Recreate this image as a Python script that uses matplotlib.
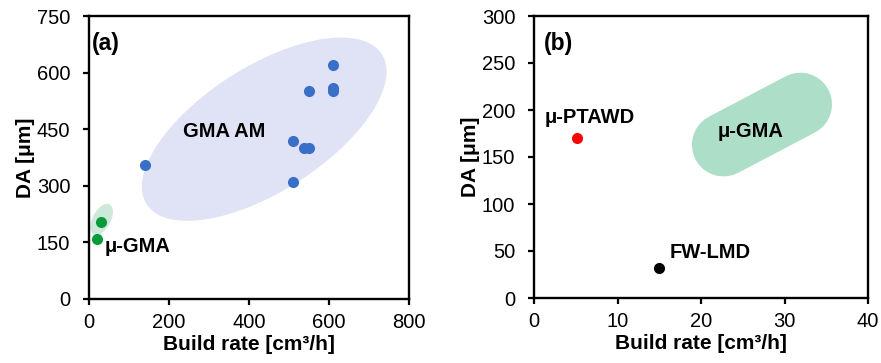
import numpy as np
import matplotlib
matplotlib.use("Agg")
import matplotlib.pyplot as plt
from matplotlib.patches import Polygon

plt.rcParams['font.family'] = ['Liberation Sans', 'DejaVu Sans']

# ---- data, panel (a) ----
gma_am_rate = [140, 611, 551, 611, 611, 509, 537, 551, 509]
gma_am_da = [355, 620, 550, 560, 550, 420, 400, 400, 310]
mu_gma_rate = [30, 19]
mu_gma_da = [205, 160]

# ---- data, panel (b) ----
ptawd_rate = [5.2]
ptawd_da = [170]
fwlmd_rate = [15]
fwlmd_da = [32]

xticks_a = [0, 200, 400, 600, 800]
yticks_a = [0, 150, 300, 450, 600, 750]
xticks_b = [0, 10, 20, 30, 40]
yticks_b = [0, 50, 100, 150, 200, 250, 300]

W, H, DPI = 881, 363, 100
fig = plt.figure(figsize=(W / DPI, H / DPI), dpi=DPI)

ax1 = fig.add_axes([89 / W, 1 - 299 / H, 320 / W, 283 / H])
ax2 = fig.add_axes([534 / W, 1 - 298 / H, 334 / W, 282 / H])


def pix_ellipse(ax, cx, cy, a_px, b_px, ang_deg, **kw):
    """Ellipse specified with centre in data units and axes in pixels."""
    x0, x1 = ax.get_xlim()
    y0, y1 = ax.get_ylim()
    bb = ax.get_position()
    sx = bb.width * W / (x1 - x0)
    sy = bb.height * H / (y1 - y0)
    t = np.linspace(0, 2 * np.pi, 200)
    th = np.deg2rad(ang_deg)
    dx = a_px * np.cos(t) * np.cos(th) - b_px * np.sin(t) * np.sin(th)
    dy = a_px * np.cos(t) * np.sin(th) + b_px * np.sin(t) * np.cos(th)
    pts = np.column_stack([cx + dx / sx, cy + dy / sy])
    ax.add_patch(Polygon(pts, closed=True, lw=0, **kw))


def style(ax, xt, yt):
    ax.set_xlim(xt[0], xt[-1])
    ax.set_ylim(yt[0], yt[-1])
    ax.set_xticks(xt)
    ax.set_yticks(yt)
    for s in ax.spines.values():
        s.set_linewidth(1.7)
    ax.tick_params(direction='out', length=4, width=1.6, labelsize=14.5,
                   top=False, right=False)
    ax.tick_params(axis='y', pad=9.5)
    ax.tick_params(axis='x', pad=6)
    ax.set_xlabel('Build rate [cm³/h]', fontsize=15, fontweight='bold', labelpad=2)
    ax.set_ylabel('DA [μm]', fontsize=15, fontweight='bold', labelpad=1)


style(ax1, xticks_a, yticks_a)
style(ax2, xticks_b, yticks_b)

# panel (a)
pix_ellipse(ax1, 438, 450, 139.5, 62.5, 32.5, color='#dfe3f5', zorder=1)
pix_ellipse(ax1, 31.7, 211, 17, 9, 62, color='#cce9da', zorder=1)
ax1.scatter(gma_am_rate, gma_am_da, s=64, color='#3a6fc7', zorder=3, lw=0)
ax1.scatter(mu_gma_rate, mu_gma_da, s=64, color='#0a9a3a', zorder=3, lw=0)
ax1.text(6, 678, '(a)', fontsize=16.5, fontweight='bold', va='center')
ax1.text(236, 443, 'GMA AM', fontsize=14.5, fontweight='bold', va='center')
ax1.text(38, 138, 'μ-GMA', fontsize=14.5, fontweight='bold', va='center')

# panel (b)
ax2.plot([22.7, 31.9], [163, 206], lw=45.6, solid_capstyle='round',
         color='#acdec8', zorder=1)
ax2.scatter(ptawd_rate, ptawd_da, s=64, color='#ff0000', zorder=3, lw=0)
ax2.scatter(fwlmd_rate, fwlmd_da, s=64, color='#000000', zorder=3, lw=0)
ax2.text(1.2, 271, '(b)', fontsize=16.5, fontweight='bold', va='center')
ax2.text(1.28, 192, 'μ-PTAWD', fontsize=14.5, fontweight='bold', va='center')
ax2.text(16.25, 48, 'FW-LMD', fontsize=14.5, fontweight='bold', va='center')
ax2.text(22, 177, 'μ-GMA', fontsize=14.5, fontweight='bold', va='center')

fig.savefig('out.png', dpi=DPI)
